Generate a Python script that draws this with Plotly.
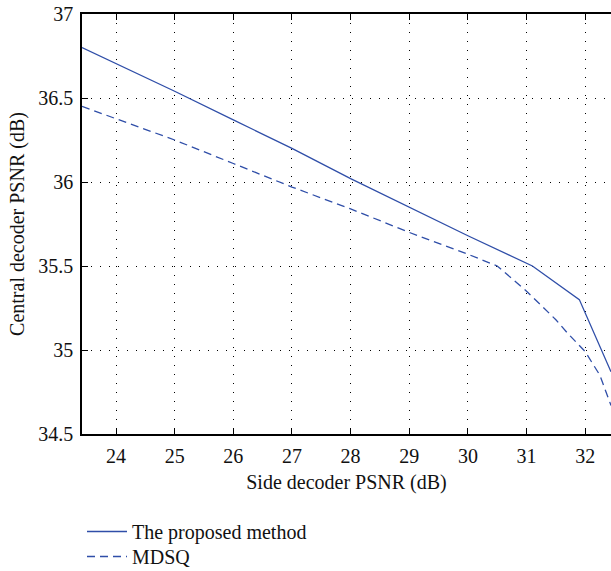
import plotly.graph_objects as go

x_proposed = [23.42, 25, 26, 27, 28, 29, 30, 31.1, 31.9, 32.44]
y_proposed = [36.80, 36.54, 36.37, 36.20, 36.02, 35.85, 35.68, 35.50, 35.30, 34.87]

x_mdsq = [23.42, 25, 26, 27, 28, 29, 30, 30.5, 31, 31.5, 31.7, 32.0, 32.25, 32.44]
y_mdsq = [36.45, 36.25, 36.11, 35.97, 35.84, 35.70, 35.57, 35.50, 35.35, 35.18, 35.10, 34.99, 34.85, 34.67]

x_ticks = [24, 25, 26, 27, 28, 29, 30, 31, 32]
y_ticks = [34.5, 35, 35.5, 36, 36.5, 37]
y_ticklabels = ["34.5", "35", "35.5", "36", "36.5", "37"]

color = "#2f4ea8"
font = dict(family="Liberation Serif", size=20, color="#111111")

fig = go.Figure()
fig.add_trace(go.Scatter(x=x_proposed, y=y_proposed, mode="lines", name="The proposed method",
                         line=dict(color=color, width=1.3), legend="legend"))
fig.add_trace(go.Scatter(x=x_mdsq, y=y_mdsq, mode="lines", name="MDSQ",
                         line=dict(color=color, width=1.3, dash="8px,5px"), legend="legend2"))

axis_common = dict(showgrid=True, gridcolor="black", gridwidth=1, griddash="1px,8px",
                   showline=True, linecolor="black", linewidth=1.5,
                   ticks="inside", ticklen=6, tickcolor="black", tickwidth=1.2,
                   zeroline=False, tickfont=font, ticklabelstandoff=3)

legend_common = dict(x=0.0, xanchor="left", yanchor="top", bgcolor="rgba(0,0,0,0)",
                     font=font, itemwidth=40)

fig.update_layout(
    width=611, height=571,
    margin=dict(l=82, r=0, t=14, b=137, autoexpand=False),
    paper_bgcolor="white", plot_bgcolor="white",
    font=font,
    showlegend=True,
    legend=dict(y=-0.1857, **legend_common),
    legend2=dict(y=-0.2452, **legend_common),
    xaxis=dict(range=[23.42, 32.44], tickvals=x_ticks, mirror="ticks",
               title=dict(text="Side decoder PSNR (dB)", font=font, standoff=9),
               **axis_common),
    yaxis=dict(range=[34.5, 37], tickvals=y_ticks, ticktext=y_ticklabels, mirror=False,
               title=dict(text="Central decoder PSNR (dB)", font=font, standoff=8),
               **axis_common),
)

fig.write_html("out.html")
